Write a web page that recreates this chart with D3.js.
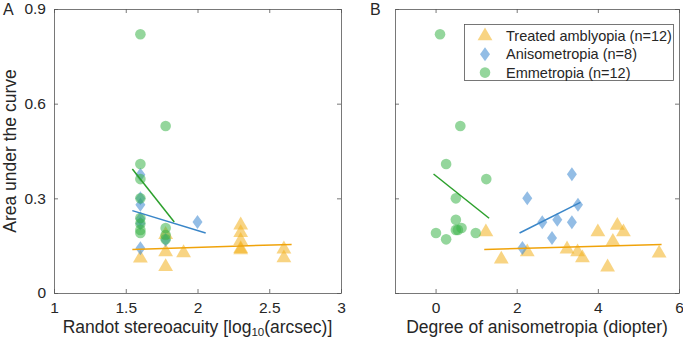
<!DOCTYPE html>
<html>
<head>
<meta charset="utf-8">
<script src="https://cdn.jsdelivr.net/npm/d3@7"></script>
<style>
    body { margin: 0; background: #fff; }
    svg { font-family: "Liberation Sans", Arial, Helvetica, sans-serif; }
    .axis text { fill: #262626; font-size: 15.5px; }
    .axis path, .axis line { stroke: #555; stroke-width: 0.8; }
</style>
</head>
<body>
<svg id="chart" width="683" height="340"></svg>
<script>
// y ticks shared by both panels
const yTicks = [0, 0.3, 0.6, 0.9];
const xTicksA = [1, 1.5, 2, 2.5, 3];
const xTicksB = [0, 2, 4, 6];

// panel A: stereoacuity (log10 arcsec) vs AUC
const ambA = [[1.602, 0.11], [1.778, 0.13], [1.778, 0.083], [1.778, 0.185], [1.903, 0.127],
    [2.301, 0.215], [2.301, 0.191], [2.301, 0.166], [2.301, 0.136], [2.301, 0.14],
    [2.602, 0.139], [2.602, 0.111]];
const aniA = [[1.602, 0.375], [1.602, 0.30], [1.602, 0.28], [1.602, 0.235], [1.602, 0.22],
    [1.602, 0.142], [1.778, 0.168], [2.0, 0.225]];
const emmA = [[1.602, 0.82], [1.602, 0.409], [1.602, 0.361], [1.602, 0.30], [1.602, 0.238],
    [1.602, 0.22], [1.602, 0.20], [1.602, 0.19], [1.778, 0.529], [1.778, 0.206],
    [1.778, 0.184], [1.778, 0.17]];

// panel B: anisometropia (diopter) vs AUC
const ambB = [[1.24, 0.193], [1.62, 0.107], [2.26, 0.13], [3.24, 0.139], [3.5, 0.13],
    [3.62, 0.111], [4.0, 0.193], [4.24, 0.082], [4.37, 0.163], [4.48, 0.214],
    [4.63, 0.193], [5.51, 0.126]];
const aniB = [[2.26, 0.30], [2.63, 0.224], [3.0, 0.232], [2.87, 0.174], [3.36, 0.376],
    [3.36, 0.224], [3.51, 0.28], [2.14, 0.143]];
const emmB = [[0.11, 0.82], [0.26, 0.409], [0.61, 0.529], [1.25, 0.361], [0.5, 0.30],
    [0.5, 0.232], [0.5, 0.2], [0.64, 0.206], [0.55, 0.2], [0.01, 0.19], [0.26, 0.17], [0.99, 0.19]];

// fitted lines (end points)
const fitAmbA = [[1.546, 0.138], [2.656, 0.154]];
const fitAniA = [[1.546, 0.261], [2.057, 0.19]];
const fitEmmA = [[1.546, 0.393], [1.838, 0.225]];
const fitAmbB = [[1.20, 0.138], [5.57, 0.154]];
const fitAniB = [[2.07, 0.19], [3.57, 0.287]];
const fitEmmB = [[-0.05, 0.377], [1.32, 0.237]];

const legendLabels = ["Treated amblyopia (n=12)", "Anisometropia (n=8)", "Emmetropia (n=12)"];

const col = {
    amb: {fill: "#f2b01e", line: "#f0a30a"},
    ani: {fill: "#3a87d0", line: "#3a86c8"},
    emm: {fill: "#3cb44b", line: "#2ca02c"}
};

const svg = d3.select("#chart");
const plotTop = 9, plotBottom = 293;
const y = d3.scaleLinear().domain([0, 0.9]).range([plotBottom, plotTop]);

const triangle = d3.symbol().type(d3.symbolTriangle).size(95);
const diamond = "M0,-7L5,0L0,7L-5,0Z";

function drawMarks(g, x, kind, data) {
    let sel = g.selectAll(null).data(data).enter();
    if (kind === "amb") {
        sel.append("path").attr("d", triangle)
            .attr("transform", d => "translate(" + x(d[0]) + "," + y(d[1]) + ")");
    } else if (kind === "ani") {
        sel.append("path").attr("d", diamond)
            .attr("transform", d => "translate(" + x(d[0]) + "," + y(d[1]) + ")");
    } else {
        sel.append("circle").attr("r", 5.3).attr("cx", d => x(d[0])).attr("cy", d => y(d[1]));
    }
    g.selectAll("*").attr("fill", col[kind].fill).attr("fill-opacity", 0.55).attr("stroke", "none");
}

function panel(left, right, xDomain, xTicks, showYLabels, sets, fits, label, letter, letterX) {
    let x = d3.scaleLinear().domain(xDomain).range([left, right]);
    let g = svg.append("g");

    // box with inward ticks
    g.append("g").attr("class", "axis")
        .attr("transform", "translate(0," + plotBottom + ")")
        .call(d3.axisBottom(x).tickValues(xTicks).tickSizeInner(-4).tickSizeOuter(0).tickPadding(9)
            .tickFormat(d3.format("")));
    g.append("g").attr("class", "axis")
        .attr("transform", "translate(0," + plotTop + ")")
        .call(d3.axisTop(x).tickValues(xTicks).tickSizeInner(-4).tickSizeOuter(0).tickFormat(""));
    g.append("g").attr("class", "axis")
        .attr("transform", "translate(" + left + ",0)")
        .call(d3.axisLeft(y).tickValues(yTicks).tickSizeInner(-4).tickSizeOuter(0).tickPadding(8)
            .tickFormat(showYLabels ? d3.format("") : ""));
    g.append("g").attr("class", "axis")
        .attr("transform", "translate(" + right + ",0)")
        .call(d3.axisRight(y).tickValues(yTicks).tickSizeInner(-4).tickSizeOuter(0).tickFormat(""));

    for (let kind of ["amb", "ani", "emm"]) {
        drawMarks(g.append("g"), x, kind, sets[kind]);
    }
    let line = d3.line().x(d => x(d[0])).y(d => y(d[1]));
    for (let kind of ["amb", "ani", "emm"]) {
        g.append("path").datum(fits[kind]).attr("d", line)
            .attr("fill", "none").attr("stroke", col[kind].line).attr("stroke-width", 1.5);
    }

    let t = svg.append("text").attr("x", (left + right) / 2).attr("y", 333)
        .attr("text-anchor", "middle").attr("font-size", 17.5).attr("fill", "#262626");
    label(t);

    svg.append("text").attr("x", letterX).attr("y", 15).attr("font-size", 16)
        .attr("fill", "#262626").text(letter);
    return x;
}

panel(54, 341, [1, 3], xTicksA, true,
    {amb: ambA, ani: aniA, emm: emmA},
    {amb: fitAmbA, ani: fitAniA, emm: fitEmmA},
    t => {
        t.append("tspan").text("Randot stereoacuity [log");
        t.append("tspan").attr("font-size", 11.5).attr("dy", 3).text("10");
        t.append("tspan").attr("dy", -3).text("(arcsec)]");
    }, "A", 3);

panel(395, 679, [-1, 6], xTicksB, false,
    {amb: ambB, ani: aniB, emm: emmB},
    {amb: fitAmbB, ani: fitAniB, emm: fitEmmB},
    t => t.text("Degree of anisometropia (diopter)"), "B", 370);

// y label
svg.append("text").attr("transform", "translate(16," + ((plotTop + plotBottom) / 2) + ") rotate(-90)")
    .attr("text-anchor", "middle").attr("font-size", 17.5).attr("fill", "#262626")
    .text("Area under the curve");

// legend
let lg = svg.append("g");
lg.append("rect").attr("x", 464.5).attr("y", 24.5).attr("width", 209).attr("height", 56)
    .attr("fill", "#fff").attr("stroke", "#555").attr("stroke-width", 0.8);
let kinds = ["amb", "ani", "emm"];
legendLabels.forEach((lab, i) => {
    let cy = 36 + i * 18.3;
    let mg = lg.append("g");
    let xx = d3.scaleLinear().domain([0, 1]).range([485, 486]);
    drawMarks(mg, xx, kinds[i], [[0, y.invert(cy)]]);
    lg.append("text").attr("x", 506).attr("y", cy + 5).attr("font-size", 14.5)
        .attr("fill", "#262626").text(lab);
});
</script>
</body>
</html>
